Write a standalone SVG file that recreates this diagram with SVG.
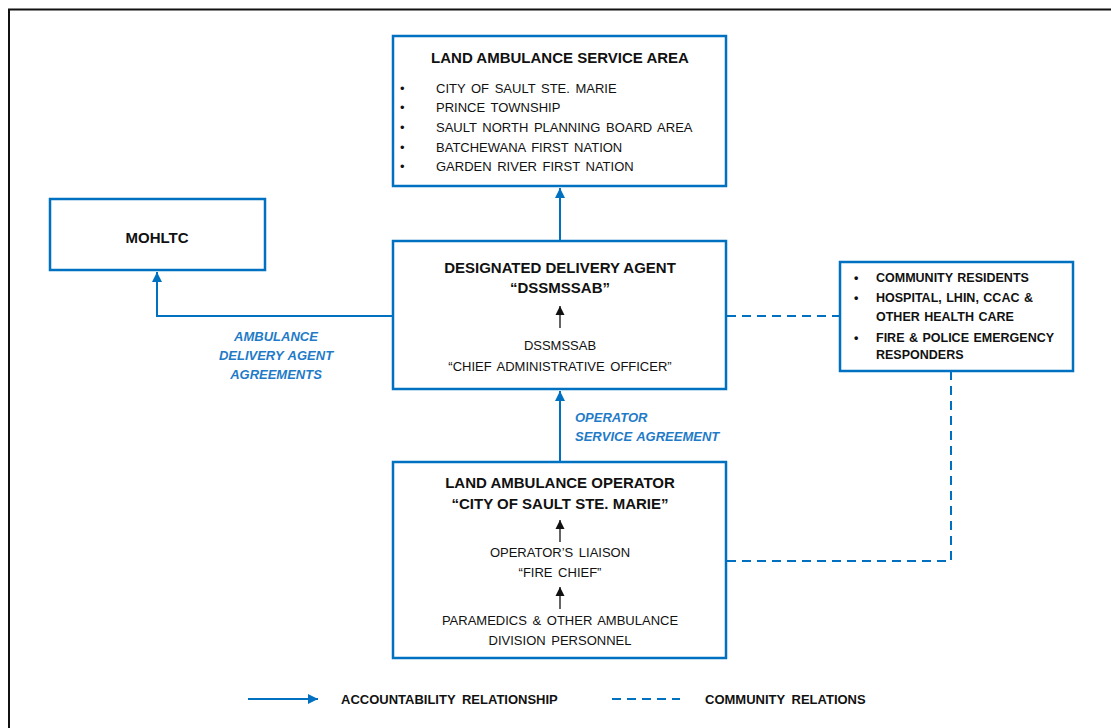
<svg xmlns="http://www.w3.org/2000/svg" width="1111" height="728" viewBox="0 0 1111 728">
<style>
.box{fill:#fff;stroke:#0070C0;stroke-width:2.5}
.t{font-family:"Liberation Sans",Arial,sans-serif;font-size:13px;word-spacing:2px;fill:#111}
.h{font-family:"Liberation Sans",Arial,sans-serif;font-size:15px;font-weight:bold;fill:#111}
.s{font-family:"Liberation Sans",Arial,sans-serif;font-size:12.5px;font-weight:bold;word-spacing:1px;fill:#111}
.lg{font-family:"Liberation Sans",Arial,sans-serif;font-size:13px;font-weight:bold;word-spacing:3px;fill:#111}
.lab{font-family:"Liberation Sans",Arial,sans-serif;font-size:13px;font-weight:bold;font-style:italic;word-spacing:1px;fill:#1F7BC8}
.c{fill:none;stroke:#0070C0;stroke-width:2}
.d{fill:none;stroke:#0070C0;stroke-width:2;stroke-dasharray:9,6}
.k{stroke:#111;stroke-width:1.3;fill:none}
</style>
<defs>
<marker id="ab" viewBox="0 0 10 10" refX="10" refY="5" markerWidth="5" markerHeight="5" orient="auto" markerUnits="strokeWidth"><path d="M0,0L10,5L0,10z" fill="#0070C0"/></marker>
<marker id="ak" viewBox="0 0 10 10" refX="10" refY="5" markerWidth="7" markerHeight="7" orient="auto" markerUnits="strokeWidth"><path d="M0,0L10,5L0,10z" fill="#111"/></marker>
</defs>
<rect width="1111" height="728" fill="#fff"/>
<path d="M9,728V9.5H1111" fill="none" stroke="#111" stroke-width="2"/>

<g id="connectors">
<line class="c" x1="560" y1="241" x2="560" y2="188" marker-end="url(#ab)"/>
<polyline class="c" points="393,316 157,316 157,272" marker-end="url(#ab)"/>
<line class="c" x1="560" y1="462" x2="560" y2="391" marker-end="url(#ab)"/>
<line class="d" x1="727" y1="316" x2="840" y2="316"/>
<polyline class="d" points="727,561 951,561 951,372"/>
<text class="lab" text-anchor="middle"><tspan x="276" y="341">AMBULANCE</tspan><tspan x="276" y="360">DELIVERY AGENT</tspan><tspan x="276" y="379">AGREEMENTS</tspan></text>
<text class="lab"><tspan x="575" y="422">OPERATOR</tspan><tspan x="575" y="441">SERVICE AGREEMENT</tspan></text>
</g>

<g id="service-area">
<rect class="box" x="393" y="36" width="333" height="150"/>
<text class="h" x="560" y="63" text-anchor="middle">LAND AMBULANCE SERVICE AREA</text>
<g class="t">
<text x="400" y="93">•</text><text x="436" y="93">CITY OF SAULT STE. MARIE</text>
<text x="400" y="112">•</text><text x="436" y="112">PRINCE TOWNSHIP</text>
<text x="400" y="132">•</text><text x="436" y="132">SAULT NORTH PLANNING BOARD AREA</text>
<text x="400" y="152">•</text><text x="436" y="152">BATCHEWANA FIRST NATION</text>
<text x="400" y="171">•</text><text x="436" y="171">GARDEN RIVER FIRST NATION</text>
</g>
</g>

<g id="mohltc">
<rect class="box" x="50" y="199" width="215" height="71"/>
<text class="h" x="157" y="243" text-anchor="middle">MOHLTC</text>
</g>

<g id="dda">
<rect class="box" x="393" y="241" width="333" height="148"/>
<text class="h" x="560" y="273" text-anchor="middle">DESIGNATED DELIVERY AGENT</text>
<text class="h" x="560" y="293" text-anchor="middle">“DSSMSSAB”</text>
<line class="k" x1="560" y1="328" x2="560" y2="306" marker-end="url(#ak)"/>
<text class="t" x="560" y="350" text-anchor="middle">DSSMSSAB</text>
<text class="t" x="560" y="371" text-anchor="middle">“CHIEF ADMINISTRATIVE OFFICER”</text>
</g>

<g id="community">
<rect class="box" x="840" y="262" width="233" height="109"/>
<g class="s">
<text x="854" y="282">•</text><text x="876" y="282">COMMUNITY RESIDENTS</text>
<text x="854" y="302">•</text><text x="876" y="302">HOSPITAL, LHIN, CCAC &amp;</text>
<text x="876" y="321">OTHER HEALTH CARE</text>
<text x="854" y="342">•</text><text x="876" y="342">FIRE &amp; POLICE EMERGENCY</text>
<text x="876" y="359">RESPONDERS</text>
</g>
</g>

<g id="operator">
<rect class="box" x="393" y="462" width="333" height="196"/>
<text class="h" x="560" y="488" text-anchor="middle">LAND AMBULANCE OPERATOR</text>
<text class="h" x="560" y="509" text-anchor="middle">“CITY OF SAULT STE. MARIE”</text>
<line class="k" x1="560" y1="542" x2="560" y2="520" marker-end="url(#ak)"/>
<text class="t" x="560" y="557" text-anchor="middle">OPERATOR’S LIAISON</text>
<text class="t" x="560" y="577" text-anchor="middle">“FIRE CHIEF”</text>
<line class="k" x1="560" y1="609" x2="560" y2="587" marker-end="url(#ak)"/>
<text class="t" x="560" y="625" text-anchor="middle">PARAMEDICS &amp; OTHER AMBULANCE</text>
<text class="t" x="560" y="645" text-anchor="middle">DIVISION PERSONNEL</text>
</g>

<g id="legend">
<line class="c" x1="248" y1="699" x2="318" y2="699" marker-end="url(#ab)"/>
<text class="lg" x="341" y="704">ACCOUNTABILITY RELATIONSHIP</text>
<line class="d" x1="612" y1="699" x2="680" y2="699"/>
<text class="lg" x="705" y="704">COMMUNITY RELATIONS</text>
</g>
</svg>
